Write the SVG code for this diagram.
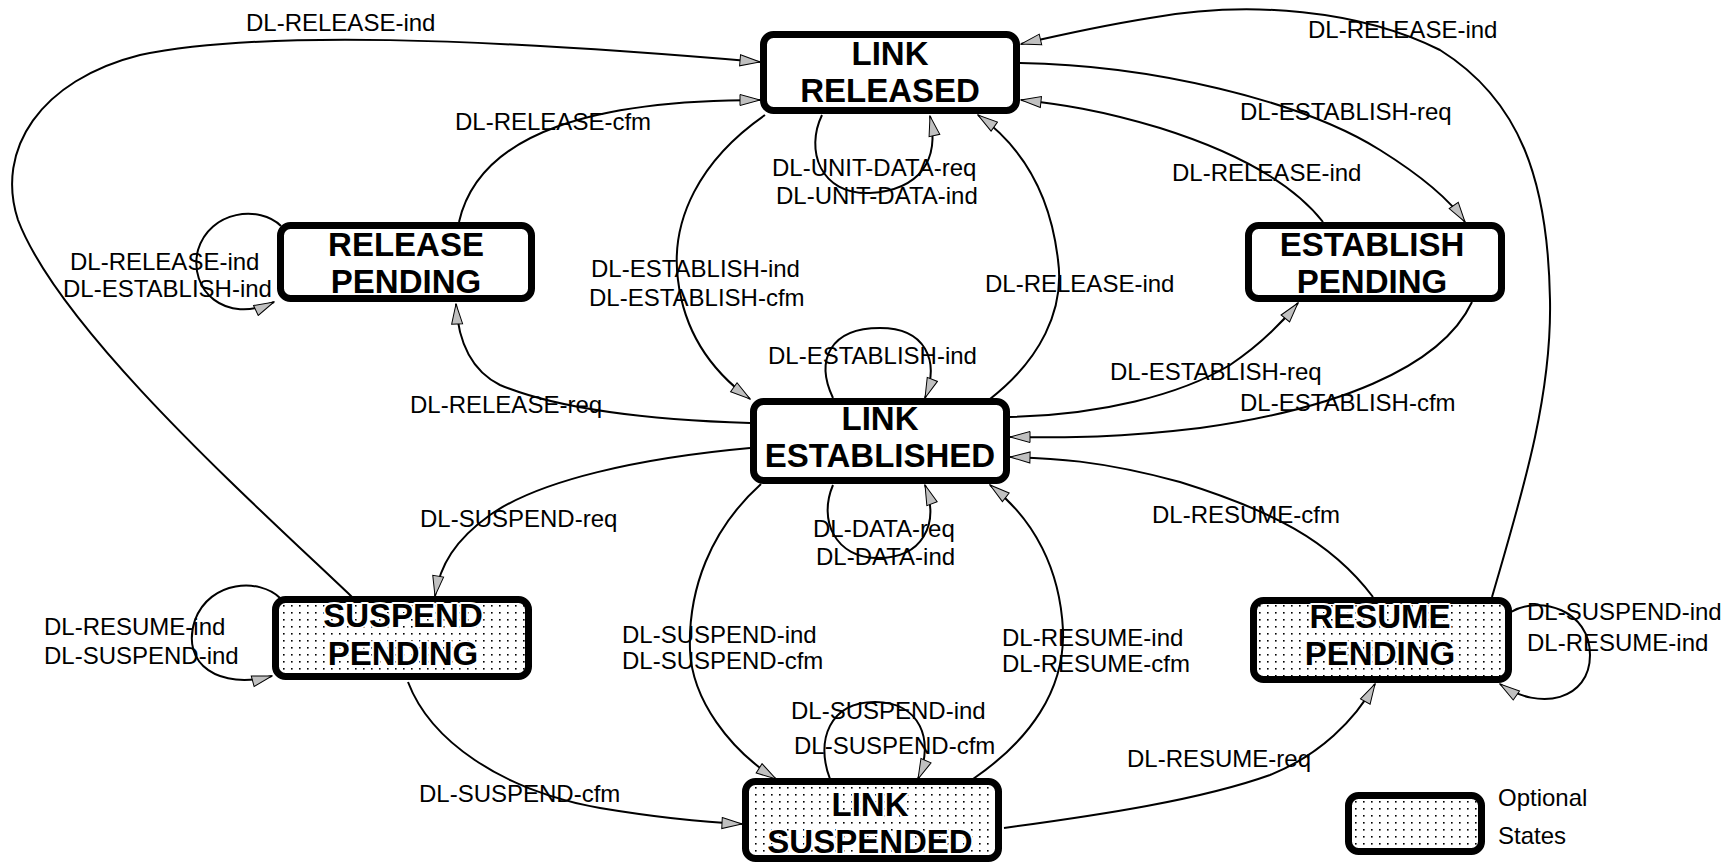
<svg xmlns="http://www.w3.org/2000/svg" width="1733" height="862" viewBox="0 0 1733 862">
<style>
.edge{fill:none;stroke:#000;stroke-width:2;marker-end:url(#arr)}
.lbl{font-family:"Liberation Sans",Arial,sans-serif;font-size:24px;fill:#000}
.box{fill:#fff;stroke:#000;stroke-width:7}
.opt{fill:url(#dots);stroke:#000;stroke-width:7}
.nt{font-family:"Liberation Sans",Arial,sans-serif;font-size:33px;font-weight:bold;text-anchor:middle;fill:#000}
.ont{font-family:"Liberation Sans",Arial,sans-serif;font-size:33px;font-weight:bold;text-anchor:middle;fill:#000;stroke:#fff;stroke-width:4;paint-order:stroke;stroke-linejoin:round}
</style>
<defs>
<marker id="arr" viewBox="0 0 22 13" refX="21" refY="6.5" markerWidth="22" markerHeight="13" markerUnits="userSpaceOnUse" orient="auto">
<path d="M1,1 L21,6.5 L1,12 z" fill="#c0c0c0" stroke="#000" stroke-width="1"/>
</marker>
<pattern id="dots" width="8" height="7" patternUnits="userSpaceOnUse">
<rect width="8" height="7" fill="#fff"/>
<rect x="3" y="3" width="1.6" height="1.6" fill="#000"/>
</pattern>
</defs>
<rect width="1733" height="862" fill="#fff"/>
<g id="connectors">
<path class="edge" d="M352,597 C250,500 60,330 18,220 C-5,150 40,80 140,55 C260,30 480,38 760,62"/>
<path class="edge" d="M459,222 C480,130 600,100 760,100"/>
<path class="edge" d="M281,226 C260,205 210,210 198,250 C188,290 225,325 274,302"/>
<path class="edge" d="M750,423 C650,420 560,410 500,385 C470,370 458,340 456,304"/>
<path class="edge" d="M765,115 C700,160 670,220 678,280 C684,330 710,370 750,399"/>
<path class="edge" d="M990,399 C1040,360 1065,310 1058,260 C1050,190 1020,145 978,115"/>
<path class="edge" d="M822,115 C805,150 820,195 870,193 C920,190 940,160 930,116"/>
<path class="edge" d="M1020,63 C1150,65 1300,100 1380,150 C1420,175 1450,200 1465,222"/>
<path class="edge" d="M1323,222 C1290,180 1230,150 1160,128 C1100,110 1060,104 1021,100"/>
<path class="edge" d="M1492,597 C1520,500 1552,400 1550,300 C1548,180 1520,100 1440,50 C1360,10 1250,0 1150,18 C1100,26 1060,35 1021,44"/>
<path class="edge" d="M833,398 C815,360 830,328 880,328 C925,328 940,360 925,398"/>
<path class="edge" d="M1010,417 C1100,415 1180,395 1230,365 C1260,345 1280,325 1298,303"/>
<path class="edge" d="M1472,302 C1440,370 1330,410 1200,428 C1100,440 1050,437 1010,437"/>
<path class="edge" d="M1373,597 C1330,540 1270,510 1180,482 C1100,460 1050,458 1010,457"/>
<path class="edge" d="M750,448 C640,458 540,480 490,515 C455,540 440,565 435,596"/>
<path class="edge" d="M280,598 C260,578 210,580 195,620 C180,665 220,690 272,676"/>
<path class="edge" d="M408,682 C430,740 500,790 600,808 C660,818 700,822 742,824"/>
<path class="edge" d="M761,484 C710,530 688,590 690,650 C692,700 730,750 776,779"/>
<path class="edge" d="M973,779 C1030,740 1065,690 1063,630 C1060,570 1035,520 990,485"/>
<path class="edge" d="M833,485 C818,520 835,558 878,558 C922,558 940,525 925,485"/>
<path class="edge" d="M830,779 C815,740 830,702 875,702 C920,702 935,740 918,779"/>
<path class="edge" d="M1004,828 C1100,815 1200,800 1270,775 C1320,755 1355,720 1375,684"/>
<path class="edge" d="M1511,612 C1540,595 1590,610 1590,655 C1590,700 1540,712 1500,684"/>
<g id="edge-labels">
<text class="lbl" x="246" y="31">DL-RELEASE-ind</text>
<text class="lbl" x="455" y="130">DL-RELEASE-cfm</text>
<text class="lbl" x="70" y="270">DL-RELEASE-ind</text>
<text class="lbl" x="63" y="297">DL-ESTABLISH-ind</text>
<text class="lbl" x="410" y="413">DL-RELEASE-req</text>
<text class="lbl" x="591" y="277">DL-ESTABLISH-ind</text>
<text class="lbl" x="589" y="306">DL-ESTABLISH-cfm</text>
<text class="lbl" x="985" y="292">DL-RELEASE-ind</text>
<text class="lbl" x="772" y="176">DL-UNIT-DATA-req</text>
<text class="lbl" x="776" y="204">DL-UNIT-DATA-ind</text>
<text class="lbl" x="1240" y="120">DL-ESTABLISH-req</text>
<text class="lbl" x="1172" y="181">DL-RELEASE-ind</text>
<text class="lbl" x="1308" y="38">DL-RELEASE-ind</text>
<text class="lbl" x="768" y="364">DL-ESTABLISH-ind</text>
<text class="lbl" x="1110" y="380">DL-ESTABLISH-req</text>
<text class="lbl" x="1240" y="411">DL-ESTABLISH-cfm</text>
<text class="lbl" x="1152" y="523">DL-RESUME-cfm</text>
<text class="lbl" x="420" y="527">DL-SUSPEND-req</text>
<text class="lbl" x="44" y="635">DL-RESUME-ind</text>
<text class="lbl" x="44" y="664">DL-SUSPEND-ind</text>
<text class="lbl" x="419" y="802">DL-SUSPEND-cfm</text>
<text class="lbl" x="622" y="643">DL-SUSPEND-ind</text>
<text class="lbl" x="622" y="669">DL-SUSPEND-cfm</text>
<text class="lbl" x="1002" y="646">DL-RESUME-ind</text>
<text class="lbl" x="1002" y="672">DL-RESUME-cfm</text>
<text class="lbl" x="813" y="537">DL-DATA-req</text>
<text class="lbl" x="816" y="565">DL-DATA-ind</text>
<text class="lbl" x="791" y="719">DL-SUSPEND-ind</text>
<text class="lbl" x="794" y="754">DL-SUSPEND-cfm</text>
<text class="lbl" x="1127" y="767">DL-RESUME-req</text>
<text class="lbl" x="1527" y="620">DL-SUSPEND-ind</text>
<text class="lbl" x="1527" y="651">DL-RESUME-ind</text>
</g>
</g>
<g id="link-released">
<rect class="box" x="763.5" y="34.5" width="253" height="76" rx="10"/>
<text class="nt" x="890" y="65">LINK</text>
<text class="nt" x="890" y="102">RELEASED</text>
</g>
<g id="release-pending">
<rect class="box" x="280.5" y="225.5" width="251" height="73" rx="10"/>
<text class="nt" x="406" y="256">RELEASE</text>
<text class="nt" x="406" y="293">PENDING</text>
</g>
<g id="establish-pending">
<rect class="box" x="1248.5" y="225.5" width="253" height="73" rx="10"/>
<text class="nt" x="1372" y="256">ESTABLISH</text>
<text class="nt" x="1372" y="293">PENDING</text>
</g>
<g id="link-established">
<rect class="box" x="753.5" y="401.5" width="253" height="79" rx="10"/>
<text class="nt" x="880" y="430">LINK</text>
<text class="nt" x="880" y="467">ESTABLISHED</text>
</g>
<g id="suspend-pending">
<rect class="opt" x="275.5" y="599.5" width="253" height="77" rx="10"/>
<text class="ont" x="403" y="627">SUSPEND</text>
<text class="ont" x="403" y="665">PENDING</text>
</g>
<g id="resume-pending">
<rect class="opt" x="1253.5" y="600.5" width="255" height="79" rx="10"/>
<text class="ont" x="1380" y="628">RESUME</text>
<text class="ont" x="1380" y="665">PENDING</text>
</g>
<g id="link-suspended">
<rect class="opt" x="745.5" y="781.5" width="253" height="77" rx="10"/>
<text class="ont" x="870" y="816">LINK</text>
<text class="ont" x="870" y="853">SUSPENDED</text>
</g>
<g id="legend">
<rect class="opt" x="1348.5" y="795.5" width="133" height="56" rx="10"/>
<text class="lbl" x="1498" y="806">Optional</text>
<text class="lbl" x="1498" y="844">States</text>
</g>
</svg>
